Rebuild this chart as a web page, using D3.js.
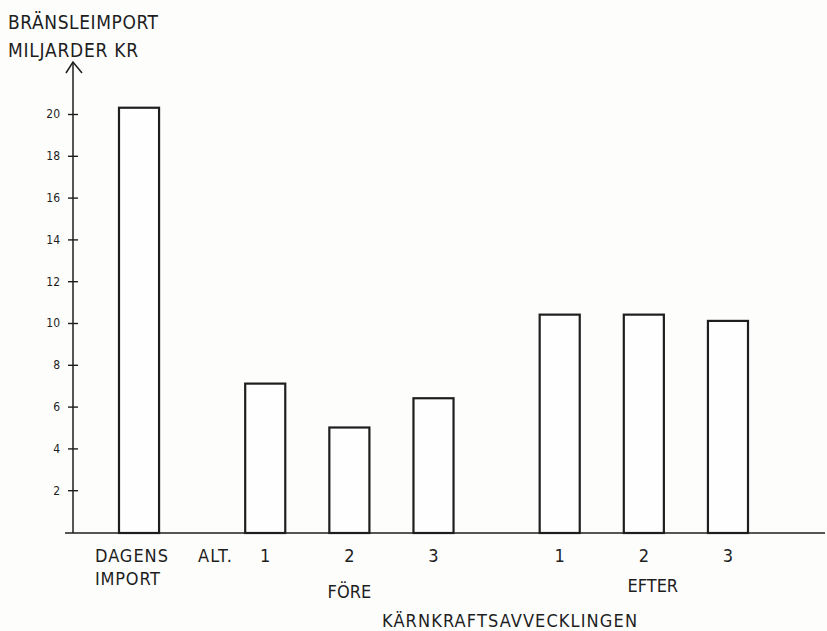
<!DOCTYPE html>
<html>
<head>
<meta charset="utf-8">
<script src="https://cdn.jsdelivr.net/npm/d3@7/dist/d3.min.js"></script>
<style>
  html, body { margin: 0; padding: 0; background: #fdfdfc; }
  svg { display: block; }
  text { font-family: "DejaVu Sans Condensed", "DejaVu Sans", sans-serif; fill: #1e1e1e; }
</style>
</head>
<body>
<svg id="chart" width="827" height="631"></svg>
<script>
// ---- data ----
const titleLines = ["BRÄNSLEIMPORT", "MILJARDER KR"];
const categories = ["DAGENS IMPORT", "FÖRE 1", "FÖRE 2", "FÖRE 3", "EFTER 1", "EFTER 2", "EFTER 3"];
const barLabels  = ["", "1", "2", "3", "1", "2", "3"];
const values     = [20.3, 7.1, 5.0, 6.4, 10.4, 10.4, 10.1];
const yTicks     = [2, 4, 6, 8, 10, 12, 14, 16, 18, 20];
const groupNames = ["FÖRE", "EFTER"];
const xTitle     = "KÄRNKRAFTSAVVECKLINGEN";

// slot layout (spacers between bars) for the band scale
const slots = ["DAGENS IMPORT", "_a", "_b", "FÖRE 1", "_c", "FÖRE 2", "_d", "FÖRE 3",
               "_e", "_f", "EFTER 1", "_g", "EFTER 2", "_h", "EFTER 3"];

const svg = d3.select("#chart");
const ink = "#1e1e1e";

const x = d3.scaleBand().domain(slots).range([118, 749]).paddingInner(0).paddingOuter(0);
const y = d3.scaleLinear().domain([0, 20]).range([532, 114]);
const axisX = 73;
const baseY = y(0) + 1;

// title
svg.selectAll("text.title").data(titleLines).join("text")
  .attr("class", "title")
  .attr("x", 8).attr("y", (d, i) => 29 + i * 28)
  .attr("font-size", 19).attr("textLength", (d, i) => i === 0 ? 150 : 130)
  .text(d => d);

// bars
svg.append("g").selectAll("rect").data(values).join("rect")
  .attr("x", (d, i) => x(categories[i]) + 1)
  .attr("width", x.bandwidth() - 2)
  .attr("y", d => y(d))
  .attr("height", d => baseY - y(d))
  .attr("fill", "#fefefe").attr("stroke", ink).attr("stroke-width", 2.2);

// y axis with ticks crossing the line
const gy = svg.append("g").attr("transform", `translate(${axisX},0)`)
  .call(d3.axisLeft(y).tickValues(yTicks).tickSize(5).tickPadding(8));
gy.select(".domain").remove();
gy.selectAll(".tick line").attr("x1", -5).attr("x2", 5).attr("stroke", ink).attr("stroke-width", 1.4);
gy.selectAll(".tick text").attr("font-size", 12).style("font-family", "'DejaVu Sans Condensed', sans-serif").attr("fill", ink);

// y axis line with open arrow head
svg.append("line").attr("x1", axisX).attr("x2", axisX).attr("y1", baseY).attr("y2", 62)
  .attr("stroke", ink).attr("stroke-width", 1.5);
svg.append("path").attr("d", `M${axisX - 7},73 L${axisX},62 L${axisX + 9},73`)
  .attr("fill", "none").attr("stroke", ink).attr("stroke-width", 1.5);

// x axis line
svg.append("line").attr("x1", 65).attr("x2", 825).attr("y1", baseY).attr("y2", baseY)
  .attr("stroke", ink).attr("stroke-width", 1.5);

// bar labels (numbers)
svg.selectAll("text.num").data(barLabels).join("text")
  .attr("class", "num")
  .attr("x", (d, i) => x(categories[i]) + x.bandwidth() / 2)
  .attr("y", 562).attr("text-anchor", "middle").attr("font-size", 18)
  .text(d => d);

// DAGENS IMPORT
svg.append("text").attr("x", 95).attr("y", 562).attr("font-size", 18).attr("textLength", 73).text("DAGENS");
svg.append("text").attr("x", 95).attr("y", 585).attr("font-size", 18).attr("textLength", 65).text("IMPORT");
// ALT.
svg.append("text").attr("x", 198).attr("y", 562).attr("font-size", 18).attr("textLength", 34).text("ALT.");

// group names
const groupCenter = [x("FÖRE 2") + x.bandwidth() / 2, x("EFTER 2") + x.bandwidth() / 2 + 9];
const groupY = [598, 592];
svg.selectAll("text.grp").data(groupNames).join("text")
  .attr("class", "grp")
  .attr("x", (d, i) => groupCenter[i]).attr("y", (d, i) => groupY[i])
  .attr("text-anchor", "middle").attr("font-size", 18)
  .text(d => d);

// x title
svg.append("text").attr("x", 382).attr("y", 627).attr("font-size", 18).attr("textLength", 255).text(xTitle);
</script>
</body>
</html>
